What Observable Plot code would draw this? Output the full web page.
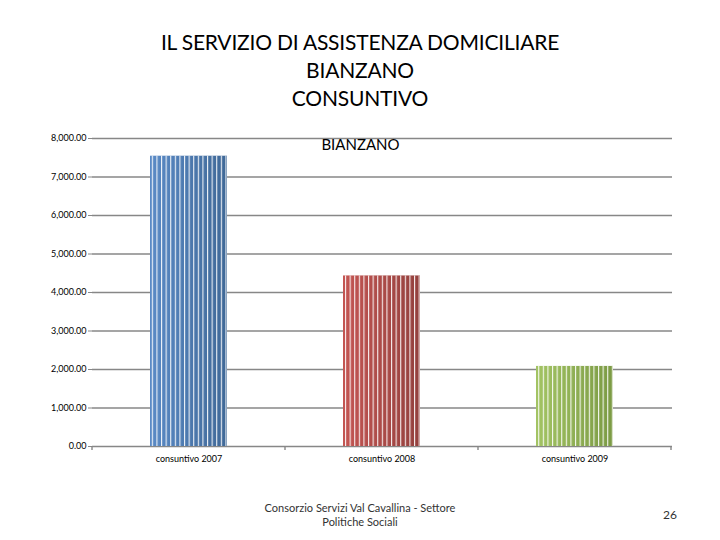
<!DOCTYPE html>
<html>
<head>
<meta charset="utf-8">
<script src="https://cdn.jsdelivr.net/npm/d3@7"></script>
<script src="https://cdn.jsdelivr.net/npm/@observablehq/plot@0.6"></script>
<style>
  html, body { margin: 0; padding: 0; background: #fff; }
  #page { position: relative; width: 720px; height: 540px; overflow: hidden; font-family: Lato, "Open Sans", sans-serif; color: #000; }
  #title { position: absolute; top: 28px; left: 0; width: 720px; text-align: center; font-size: 21px; line-height: 28px; letter-spacing: -0.2px; }
  #chart { position: absolute; top: 120px; left: 0; }
  #footer { position: absolute; top: 501px; left: 230px; width: 260px; text-align: center; font-size: 11px; line-height: 14px; color: #333; }
  #pagenum { position: absolute; top: 507px; left: 650px; width: 40px; text-align: center; font-size: 12px; color: #333; }
</style>
</head>
<body>
<div id="page">
  <div id="title">IL SERVIZIO DI ASSISTENZA DOMICILIARE<br>BIANZANO<br>CONSUNTIVO</div>
  <div id="chart"></div>
  <div id="footer">Consorzio Servizi Val Cavallina - Settore<br>Politiche Sociali</div>
  <div id="pagenum">26</div>
</div>
<script>
const categories = ["consuntivo 2007", "consuntivo 2008", "consuntivo 2009"];
const values = [7540, 4430, 2080];
const yTicks = [0, 1000, 2000, 3000, 4000, 5000, 6000, 7000, 8000];
const chartTitle = "BIANZANO";
const barColors = [["#5a8ac6", "#3f6897"], ["#c45653", "#93403d"], ["#a3c464", "#7b9a44"]];

const data = categories.map((c, i) => ({category: c, value: values[i], idx: i}));

const defs = () => {
  const ns = "http://www.w3.org/2000/svg";
  const d = document.createElementNS(ns, "defs");
  barColors.forEach((pair, i) => {
    const g = document.createElementNS(ns, "linearGradient");
    g.setAttribute("id", "grad" + i);
    g.setAttribute("x1", "0"); g.setAttribute("x2", "1"); g.setAttribute("y1", "0"); g.setAttribute("y2", "0");
    [[0, pair[0]], [1, pair[1]]].forEach(([o, c]) => {
      const s = document.createElementNS(ns, "stop");
      s.setAttribute("offset", o); s.setAttribute("stop-color", c);
      g.appendChild(s);
    });
    d.appendChild(g);
  });
  const p = document.createElementNS(ns, "pattern");
  p.setAttribute("id", "stripes");
  p.setAttribute("patternUnits", "userSpaceOnUse");
  p.setAttribute("width", "4.6"); p.setAttribute("height", "10");
  const r = document.createElementNS(ns, "rect");
  r.setAttribute("x", "0"); r.setAttribute("y", "0"); r.setAttribute("width", "1.1"); r.setAttribute("height", "10");
  r.setAttribute("fill", "#ffffff"); r.setAttribute("fill-opacity", "0.9");
  p.appendChild(r);
  d.appendChild(p);
  return d;
};

const fmt = d3.format(",.2f");
const grid = "#878787";

const chart = Plot.plot({
  width: 720,
  height: 350,
  marginTop: 18,
  marginBottom: 24,
  marginLeft: 92,
  marginRight: 48,
  style: {fontFamily: "Lato, 'Open Sans', sans-serif", background: "transparent"},
  x: {domain: categories, paddingInner: 0.6, paddingOuter: 0.3, label: null},
  y: {domain: [0, 8000], label: null},
  marks: [
    defs,
    Plot.ruleY(yTicks, {stroke: grid, strokeWidth: 1.4}),
    Plot.ruleX([0], {frameAnchor: "left", stroke: grid, strokeWidth: 1.4}),
    ...data.map(d => Plot.barY([d], {x: "category", y: "value", fill: `url(#grad${d.idx})`})),
    Plot.barY(data, {x: "category", y: "value", fill: "url(#stripes)"}),
    Plot.axisY({ticks: yTicks, tickFormat: fmt, tickSize: 4, tickPadding: 2, stroke: grid, fontSize: 9, fill: "#000"}),
    Plot.axisX({tickSize: 0, tickPadding: 9, fontSize: 9, fill: "#000"}),
    Plot.text([chartTitle], {frameAnchor: "top", dx: -22, dy: 1, fontSize: 15, fill: "#000", text: d => d})
  ]
});

// boundary ticks on the category axis
const xs = chart.scale("x");
const ys = chart.scale("y");
const svg = d3.select(chart.tagName.toLowerCase() === "svg" ? chart : chart.querySelector("svg"));
const y0 = ys.apply(0);
const bounds = categories.map(c => xs.apply(c) - (xs.step - xs.bandwidth) / 2);
bounds.push(xs.apply(categories[categories.length - 1]) + xs.bandwidth + (xs.step - xs.bandwidth) / 2);
svg.append("g").selectAll("line").data(bounds).join("line")
  .attr("x1", d => d).attr("x2", d => d).attr("y1", y0).attr("y2", y0 + 4)
  .attr("stroke", grid).attr("stroke-width", 1.4);

document.getElementById("chart").appendChild(chart);
</script>
</body>
</html>
